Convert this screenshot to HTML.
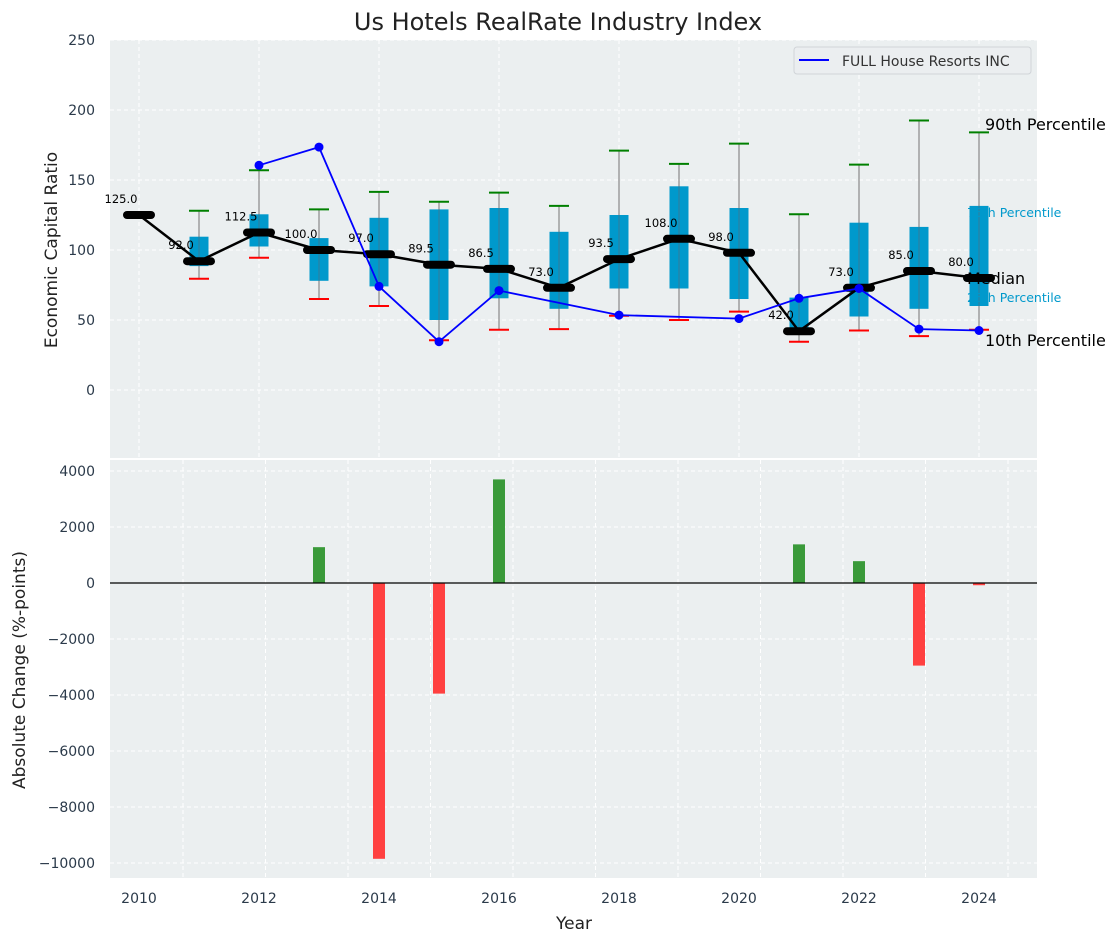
<!DOCTYPE html>
<html><head><meta charset="utf-8"><style>
body{margin:0;background:#fff}
svg text{font-family:"DejaVu Sans","Liberation Sans",sans-serif}
</style></head><body>
<svg id="c" width="1120" height="942" xmlns="http://www.w3.org/2000/svg">
<text x="558" y="30" font-size="24" text-anchor="middle" fill="#222">Us Hotels RealRate Industry Index</text>
<rect x="110" y="40" width="927" height="418" fill="#ebeff0"/>
<rect x="110" y="460" width="927" height="418" fill="#ebeff0"/>
<g id="g"></g>
</svg>
<script>
const years=[2010,2011,2012,2013,2014,2015,2016,2017,2018,2019,2020,2021,2022,2023,2024];
const medians=[125,92,112.5,100,97,89.5,86.5,73,93.5,108,98,42,73,85,80];
const p90=[null,128,157,129,141.5,134.5,141,131.5,171,161.5,176,125.5,161,192.5,184];
const p10=[null,79.5,94.5,65,60,35.5,43,43.5,53,50,56,34.5,42.5,38.5,43];
const p75=[null,109.5,125.5,108.5,123,129,130,113,125,145.5,130,66,119.5,116.5,131.5];
const p25=[null,88.5,102.5,78,74,50,65.5,58,72.5,72.5,65,40,52.5,58,60];
const compYears=[2012,2013,2014,2015,2016,2018,2020,2021,2022,2023,2024];
const compValues=[160.5,173.5,74,34.5,71,53.5,51,65.5,72.5,43.5,42.5];
const changeYears=[2013,2014,2015,2016,2021,2022,2023,2024];
const changeValues=[1280,-9850,-3950,3700,1380,780,-2950,-80];
const topTicks=[0,50,100,150,200,250];
const botTicks=[-10000,-8000,-6000,-4000,-2000,0,2000,4000];
const xTicks=[2010,2012,2014,2016,2018,2020,2022,2024];

const X=v=>139+(v-2010)*60;
const YT=v=>390-v*1.4;
const YB=v=>583-v*0.028;
const g=document.getElementById('g');
const NS='http://www.w3.org/2000/svg';
function mk(t,a,txt){const e=document.createElementNS(NS,t);for(const k in a)e.setAttribute(k,a[k]);if(txt!==undefined)e.textContent=txt;g.appendChild(e);return e;}

// grids
for(const t of topTicks){const e=mk('line',{x1:110,x2:1037,y1:YT(t),y2:YT(t),stroke:'#fff','stroke-dasharray':'4,3'});

const l=mk('text',{x:95,y:YT(t)+5,'font-size':14,'text-anchor':'end',fill:'#2b3a4a'},String(t));
}
for(const t of xTicks){const e=mk('line',{x1:X(t),x2:X(t),y1:40,y2:458,stroke:'#fff','stroke-dasharray':'4,3'});

const l=mk('text',{x:X(t),y:903,'font-size':14,'text-anchor':'middle',fill:'#2b3a4a'},String(t));
}
for(const t of botTicks){const e=mk('line',{x1:110,x2:1037,y1:YB(t),y2:YB(t),stroke:'#fff','stroke-dasharray':'4,3'});

const l=mk('text',{x:95,y:YB(t)+5,'font-size':14,'text-anchor':'end',fill:'#2b3a4a'},t<0?'\u2212'+(-t):String(t));
}
for(let i=0;i<11;i++){const x=183+i*82.5;const e=mk('line',{x1:x,x2:x,y1:460,y2:878,stroke:'#fff','stroke-dasharray':'4,3'});
}

// boxes and whiskers
years.forEach((y,i)=>{
 if(p90[i]==null)return;
 const x=X(y);
 const w=mk('line',{x1:x,x2:x,y1:YT(p90[i]),y2:YT(p10[i]),stroke:'#888','stroke-width':1.2});
 
 const b=mk('rect',{x:x-9.5,y:YT(p75[i]),width:19,height:YT(p25[i])-YT(p75[i]),fill:'#0099cc'});
 
 const w2=mk('line',{x1:x,x2:x,y1:YT(p75[i]),y2:YT(p25[i]),stroke:'#5a6a78','stroke-width':1,opacity:0.6});
 
 const c1=mk('line',{x1:x-10,x2:x+10,y1:YT(p90[i]),y2:YT(p90[i]),stroke:'green','stroke-width':2});
 
 const c2=mk('line',{x1:x-10,x2:x+10,y1:YT(p10[i]),y2:YT(p10[i]),stroke:'red','stroke-width':2});
 
});
// median line
const ml=mk('polyline',{points:years.map((y,i)=>X(y)+','+YT(medians[i])).join(' '),fill:'none',stroke:'#000','stroke-width':2.5});

years.forEach((y,i)=>{
 const m=mk('line',{x1:X(y)-12,x2:X(y)+12,y1:YT(medians[i]),y2:YT(medians[i]),stroke:'#000','stroke-width':8,'stroke-linecap':'round'});
 
 const t=mk('text',{x:X(y)-18,y:YT(medians[i])-12,'font-size':11.5,'text-anchor':'middle',fill:'#000'},medians[i].toFixed(1));
 
});
// company line
const cl=mk('polyline',{points:compYears.map((y,i)=>X(y)+','+YT(compValues[i])).join(' '),fill:'none',stroke:'#0000ff','stroke-width':1.8});

compYears.forEach((y,i)=>{const p=mk('circle',{cx:X(y),cy:YT(compValues[i]),r:4.5,fill:'#0000ff'});
});

// percentile labels
const lbls=[[985,130,'90th Percentile','#000',16],[967,217,'75th Percentile','#0099cc',12.5],[967,284,'Median','#000',16],[967,302,'25th Percentile','#0099cc',12.5],[985,346,'10th Percentile','#000',16]];
for(const L of lbls){const t=mk('text',{x:L[0],y:L[1],'font-size':L[4],fill:L[3]},L[2]);
}

// bars
changeYears.forEach((y,i)=>{const v=changeValues[i];const y0=YB(0),y1=YB(v);
const r=mk('rect',{x:X(y)-6,y:Math.min(y0,y1),width:12,height:Math.max(1,Math.abs(y1-y0)),fill:v>=0?'#3a9a3a':'#ff4040'});
});
const z=mk('line',{x1:110,x2:1037,y1:YB(0),y2:YB(0),stroke:'#000','stroke-width':1.3});


// legend
const lg=mk('rect',{x:794,y:47,width:237,height:27,rx:3,fill:'#ebeef0',stroke:'#d0d4d8'});

const ll=mk('line',{x1:799,x2:829,y1:60,y2:60,stroke:'#0000ff','stroke-width':2});

const lt=mk('text',{x:842,y:66,'font-size':14,fill:'#333'},'FULL House Resorts INC');


// axis titles
const a1=mk('text',{x:0,y:0,'font-size':17,'text-anchor':'middle',fill:'#222',transform:'translate(57,250) rotate(-90)'},'Economic Capital Ratio');

const a2=mk('text',{x:0,y:0,'font-size':17,'text-anchor':'middle',fill:'#222',transform:'translate(25,670) rotate(-90)'},'Absolute Change (%-points)');

const a3=mk('text',{x:574,y:929,'font-size':17,'text-anchor':'middle',fill:'#222'},'Year');

</script>
</body></html>
